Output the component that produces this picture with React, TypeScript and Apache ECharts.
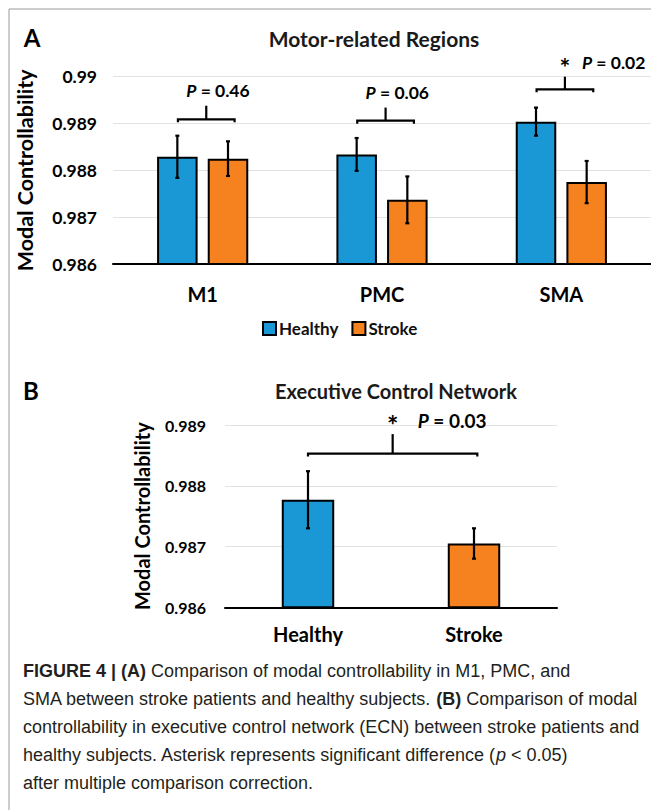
import React, { useEffect, useRef } from 'react';
import * as echarts from 'echarts';

// ---------- Data ----------
const regions = ['M1', 'PMC', 'SMA'];
const healthyMeans = [0.98829, 0.98834, 0.98904];
const healthyErr = [0.00045, 0.00035, 0.0003];
const strokeMeans = [0.98825, 0.98737, 0.98775];
const strokeErr = [0.00037, 0.0005, 0.00045];
const regionBracketY = [0.98909, 0.98906, 0.98973];
const regionBracketTop = [0.98938, 0.98934, 0.99];
const regionLabelY = [0.9897, 0.98967, 0.9903];
const regionP = ['0.46', '0.06', '0.02'];
const regionSig = [false, false, true];
const yRangeA = [0.986, 0.99];

const groups = ['Healthy', 'Stroke'];
const ecnMeans = [0.98777, 0.98705];
const ecnErr = [0.00047, 0.00025];
const ecnBracketY = [0.98853];
const ecnBracketTop = [0.98885];
const ecnLabelY = [0.98908];
const ecnP = ['0.03'];
const ecnSig = [true];
const yRangeB = [0.986, 0.989];
const yStep = 0.001;

const captionLines = [
  '{b|FIGURE 4 | (A)} Comparison of modal controllability in M1, PMC, and',
  'SMA between stroke patients and healthy subjects. {b|(B)} Comparison of modal',
  'controllability in executive control network (ECN) between stroke patients and',
  'healthy subjects. Asterisk represents significant difference ({i|p} < 0.05)',
  'after multiple comparison correction.',
];

// ---------- Styles ----------
const BLUE = '#1a97d5';
const ORANGE = '#f6821f';
const FONT = 'Lato, "Open Sans", sans-serif';
const CAP_FONT = '"Liberation Sans", Arial, sans-serif';

const fmt = (v: number) => String(+Number(v).toFixed(3));

function errRender(offsetFrac: number) {
  return (params: any, api: any) => {
    const cat = api.value(0);
    const mean = api.value(1);
    const err = api.value(2);
    const side = api.value(3);
    const bandW = api.size([1, 0])[0];
    const x = api.coord([cat, mean])[0] + side * offsetFrac * bandW;
    const yT = api.coord([cat, mean + err])[1];
    const yB = api.coord([cat, mean - err])[1];
    const st = { stroke: '#000', lineWidth: 2.2 };
    return {
      type: 'group',
      children: [
        { type: 'line', shape: { x1: x, y1: yT, x2: x, y2: yB }, style: st },
        { type: 'line', shape: { x1: x - 2, y1: yT, x2: x + 2, y2: yT }, style: st },
        { type: 'line', shape: { x1: x - 2, y1: yB, x2: x + 2, y2: yB }, style: st },
      ],
    };
  };
}

function bracketRender(
  pLabels: string[],
  sig: boolean[],
  leftFrac: number,
  rightFrac: number,
  textOff: number,
  sigTextOff: number,
  fontSize: number
) {
  return (params: any, api: any) => {
    const i = params.dataIndex;
    const cat = api.value(0);
    const yb = api.value(1);
    const yt = api.value(2);
    const yl = api.value(3);
    const bandW = api.size([1, 0])[0];
    const c = api.coord([cat, yb]);
    const left = c[0] + leftFrac * bandW;
    const right = c[0] + rightFrac * bandW;
    const mid = (left + right) / 2;
    const yTop = api.coord([cat, yt])[1];
    const yLab = api.coord([cat, yl])[1];
    const st = { stroke: '#000', lineWidth: 2.2, fill: null };
    const rich = {
      i: { fontStyle: 'italic', fontWeight: 'bold', fontSize, fontFamily: FONT, fill: '#000' },
      n: { fontWeight: 'bold', fontSize, fontFamily: FONT, fill: '#000' },
    };
    const children: any[] = [
      {
        type: 'polyline',
        shape: { points: [[left, c[1] + 3], [left, c[1]], [right, c[1]], [right, c[1] + 3]] },
        style: st,
      },
      { type: 'line', shape: { x1: mid, y1: c[1], x2: mid, y2: yTop }, style: st },
    ];
    if (sig[i]) {
      children.push({
        type: 'text',
        x: mid,
        y: yLab + 4,
        style: {
          text: '*',
          fontSize: fontSize + 8,
          fontWeight: 'bold',
          fontFamily: FONT,
          fill: '#000',
          align: 'center',
          verticalAlign: 'middle',
        },
      });
    }
    children.push({
      type: 'text',
      x: mid + (sig[i] ? sigTextOff : textOff),
      y: yLab,
      style: {
        text: '{i|P}{n| = ' + pLabels[i] + '}',
        rich,
        align: 'left',
        verticalAlign: 'middle',
      },
    });
    return { type: 'group', children };
  };
}

export default function App() {
  const ref = useRef<HTMLDivElement>(null);

  useEffect(() => {
    document.body.style.margin = '0';
    if (!ref.current) return;
    const chart = echarts.init(ref.current, null, { renderer: 'svg' });

    const axisLabelStyle = { color: '#000', fontFamily: FONT, fontWeight: 'bold' as const };

    const captionGraphics = captionLines.map((line, k) => ({
      type: 'text',
      left: 23,
      top: 670 + k * 28 - 8,
      style: {
        text: line,
        fontSize: 18,
        fontFamily: CAP_FONT,
        fill: '#231f20',
        rich: {
          b: { fontWeight: 'bold', fontSize: 18, fontFamily: CAP_FONT, fill: '#231f20' },
          i: { fontStyle: 'italic', fontSize: 18, fontFamily: CAP_FONT, fill: '#231f20' },
        },
      },
    }));

    const option: any = {
      animation: false,
      backgroundColor: '#fff',
      textStyle: { fontFamily: FONT },
      graphic: [
        { type: 'line', shape: { x1: 9, y1: 9, x2: 651, y2: 9 }, style: { stroke: '#9a9a9a', lineWidth: 1 } },
        { type: 'line', shape: { x1: 9, y1: 9, x2: 9, y2: 810 }, style: { stroke: '#9a9a9a', lineWidth: 1 } },
        {
          type: 'text', x: 32, y: 37,
          style: { text: 'A', fontSize: 24, fontWeight: 'bold', fontFamily: FONT, fill: '#000', align: 'center', verticalAlign: 'middle' },
        },
        {
          type: 'text', x: 374, y: 38,
          style: { text: 'Motor-related Regions', fontSize: 21, fontWeight: 'bold', fontFamily: FONT, fill: '#1a1a1a', align: 'center', verticalAlign: 'middle' },
        },
        {
          type: 'text', x: 31, y: 390,
          style: { text: 'B', fontSize: 24, fontWeight: 'bold', fontFamily: FONT, fill: '#000', align: 'center', verticalAlign: 'middle' },
        },
        {
          type: 'text', x: 396, y: 391,
          style: { text: 'Executive Control Network', fontSize: 20, fontWeight: 'bold', fontFamily: FONT, fill: '#1a1a1a', align: 'center', verticalAlign: 'middle' },
        },
        ...captionGraphics,
      ],
      legend: {
        data: ['Healthy', 'Stroke'],
        left: 257,
        top: 315,
        icon: 'rect',
        itemWidth: 13,
        itemHeight: 13,
        itemGap: 13,
        textStyle: { fontSize: 17, fontWeight: 'bold', fontFamily: FONT, color: '#111', padding: [0, 0, 0, -2] },
      },
      grid: [
        { left: 113, top: 76.7, width: 538, height: 187.3 },
        { left: 225, top: 425, width: 332, height: 182.3 },
      ],
      xAxis: [
        {
          type: 'category', gridIndex: 0, data: regions,
          axisLine: { lineStyle: { color: '#000', width: 2 } },
          axisTick: { show: false },
          axisLabel: { ...axisLabelStyle, fontSize: 20, margin: 20 },
        },
        {
          type: 'category', gridIndex: 1, data: groups,
          axisLine: { lineStyle: { color: '#000', width: 2 } },
          axisTick: { show: false },
          axisLabel: { ...axisLabelStyle, fontSize: 20, margin: 17 },
        },
      ],
      yAxis: [
        {
          type: 'value', gridIndex: 0, min: yRangeA[0], max: yRangeA[1], interval: yStep,
          axisLine: { show: false }, axisTick: { show: false },
          splitLine: { lineStyle: { color: '#e2e2e2', width: 1 } },
          axisLabel: { ...axisLabelStyle, fontSize: 17.5, margin: 16, formatter: fmt },
          name: 'Modal Controllability', nameLocation: 'middle', nameRotate: 90, nameGap: 77,
          nameTextStyle: { fontSize: 21.5, fontWeight: 'bold', fontFamily: FONT, color: '#000' },
        },
        {
          type: 'value', gridIndex: 1, min: yRangeB[0], max: yRangeB[1], interval: yStep,
          axisLine: { show: false }, axisTick: { show: false },
          splitLine: { lineStyle: { color: '#e2e2e2', width: 1 } },
          axisLabel: { ...axisLabelStyle, fontSize: 16, margin: 19, formatter: fmt },
          name: 'Modal Controllability', nameLocation: 'middle', nameRotate: 90, nameGap: 73,
          nameTextStyle: { fontSize: 20, fontWeight: 'bold', fontFamily: FONT, color: '#000' },
        },
      ],
      series: [
        {
          name: 'Healthy', type: 'bar', xAxisIndex: 0, yAxisIndex: 0,
          data: healthyMeans, barWidth: '22.6%', barGap: '25%',
          itemStyle: { color: BLUE, borderColor: '#000', borderWidth: 2 },
        },
        {
          name: 'Stroke', type: 'bar', xAxisIndex: 0, yAxisIndex: 0,
          data: strokeMeans, barWidth: '22.6%', barGap: '25%',
          itemStyle: { color: ORANGE, borderColor: '#000', borderWidth: 2 },
        },
        {
          name: 'errA', type: 'custom', xAxisIndex: 0, yAxisIndex: 0, z: 5,
          renderItem: errRender(0.226 * 1.25 / 2),
          data: [
            ...healthyMeans.map((m, i) => [i, m, healthyErr[i], -1]),
            ...strokeMeans.map((m, i) => [i, m, strokeErr[i], 1]),
          ],
          silent: true,
        },
        {
          name: 'bracketA', type: 'custom', xAxisIndex: 0, yAxisIndex: 0, z: 5,
          renderItem: bracketRender(regionP, regionSig, -0.138, 0.178, -20, 17, 17.5),
          data: regions.map((_, i) => [i, regionBracketY[i], regionBracketTop[i], regionLabelY[i]]),
          silent: true,
        },
        {
          name: 'ECN', type: 'bar', xAxisIndex: 1, yAxisIndex: 1,
          barWidth: '31.6%',
          data: ecnMeans.map((v, i) => ({ value: v, itemStyle: { color: i === 0 ? BLUE : ORANGE } })),
          itemStyle: { borderColor: '#000', borderWidth: 2 },
        },
        {
          name: 'errB', type: 'custom', xAxisIndex: 1, yAxisIndex: 1, z: 5,
          renderItem: errRender(0),
          data: ecnMeans.map((m, i) => [i, m, ecnErr[i], 0]),
          silent: true,
        },
        {
          name: 'bracketB', type: 'custom', xAxisIndex: 1, yAxisIndex: 1, z: 5,
          renderItem: bracketRender(ecnP, ecnSig, 0, 1.02, -20, 25, 19),
          data: ecnBracketY.map((y, i) => [0, y, ecnBracketTop[i], ecnLabelY[i]]),
          silent: true,
        },
      ],
    };

    chart.setOption(option);
    return () => chart.dispose();
  }, []);

  return <div ref={ref} style={{ width: 651, height: 810 }} />;
}
